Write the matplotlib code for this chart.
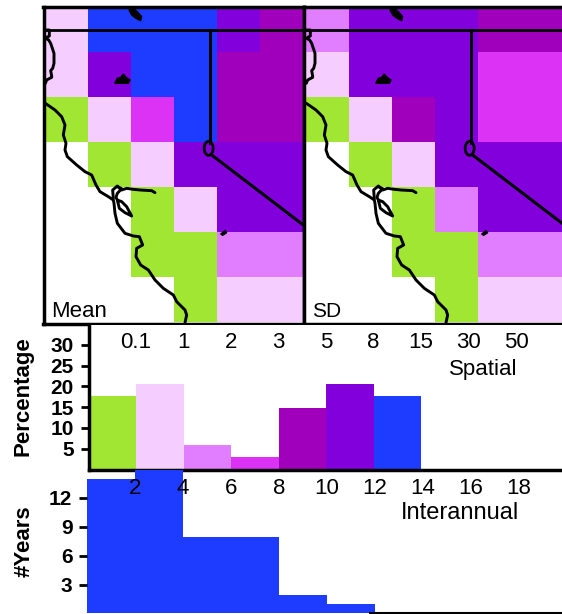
#!/usr/bin/env python3
"""Mean / SD maps with spatial and interannual histograms."""

import matplotlib

matplotlib.use("Agg")
import matplotlib.pyplot as plt  # noqa: E402
from matplotlib.colors import BoundaryNorm, ListedColormap  # noqa: E402
from matplotlib.patches import Ellipse  # noqa: E402
import numpy as np  # noqa: E402

plt.rcParams["font.family"] = ["Liberation Sans", "DejaVu Sans"]
W, H = 562, 614

CLASS_COLORS = ["#ffffff", "#a0e632", "#f5cdff", "#e17dff", "#dc32f5", "#a000bc", "#8200dc", "#1e3cff"]

# class per grid cell: 0 none, 1-7 the bins of the spatial histogram
MEAN_CELLS = [
    [2, 7, 7, 7, 6, 5],
    [2, 6, 7, 7, 5, 5],
    [1, 2, 4, 7, 5, 5],
    [0, 1, 2, 6, 6, 6],
    [0, 0, 1, 2, 6, 6],
    [0, 0, 1, 1, 3, 3],
    [0, 0, 0, 1, 2, 2],
]
SD_CELLS = [
    [3, 6, 6, 6, 5, 5],
    [2, 6, 6, 6, 4, 4],
    [1, 2, 5, 6, 4, 4],
    [0, 1, 2, 6, 6, 6],
    [0, 0, 1, 3, 6, 6],
    [0, 0, 1, 1, 3, 3],
    [0, 0, 0, 1, 2, 2],
]

# outlines, in pixels of the 3x crop
COAST_NORTH_X = [46, 52, 58, 58, 50, 47, 56, 62, 72, 72, 68, 62, 65, 65, 50, 46]
COAST_NORTH_Y = [90, 90, 90, 108, 112, 115, 120, 130, 160, 190, 205, 212, 228, 232, 240, 250]
COAST_MAIN_X = [46, 75, 95, 105, 100, 108, 105, 112, 140, 165, 185, 198, 210, 235, 250, 252, 255, 262, 285, 310, 328, 338, 320, 318, 332, 355, 375, 400, 430, 440, 465, 470, 465]
COAST_MAIN_Y = [310, 330, 350, 375, 405, 430, 450, 470, 495, 515, 525, 555, 575, 590, 600, 610, 640, 670, 700, 708, 710, 735, 745, 770, 795, 810, 840, 865, 885, 905, 930, 945, 968]
BAY_X = [250, 248, 262, 275, 290, 310, 330, 365, 375]
BAY_Y = [596, 570, 558, 570, 565, 568, 570, 572, 578]
BAY_LOOP_X = [262, 275, 262, 258, 262, 275, 290, 305, 285, 268, 262]
BAY_LOOP_Y = [560, 566, 580, 592, 600, 605, 620, 648, 638, 625, 600]
NV_X = [541, 541]
NV_Y = [90, 430]
DIAG_X = [545, 816]
DIAG_Y = [465, 672]
TAHOE_XY = (536, 445)
LAKES_X = [[297, 310, 322, 335, 332, 318, 305], [255, 262, 272, 280, 288, 300, 295, 255], [572, 585, 590, 578]]
LAKES_Y = [[30, 25, 35, 50, 62, 55, 45], [248, 235, 232, 222, 232, 240, 250, 250], [702, 692, 698, 706]]

BIN_EDGES = [0, 2, 4, 6, 8, 10, 12, 14]
SPATIAL_PCT = [17.7, 20.6, 5.9, 2.9, 14.7, 20.6, 17.7]
X_TICKS = [2, 4, 6, 8, 10, 12, 14, 16, 18]
SPATIAL_TOP_LABELS = ["0.1", "1", "2", "3", "5", "8", "15", "30", "50"]
PCT_TICKS = [5, 10, 15, 20, 25, 30]

YEAR_EDGES = [0, 2, 4, 6, 8, 10, 12]
YEAR_COUNTS = [14, 15, 8, 8, 2, 1]
YEAR_TICKS = [3, 6, 9, 12]


def axes_at(left, top, right, bottom):
    return fig.add_axes([left / W, 1 - bottom / H, (right - left) / W, (bottom - top) / H])


def px_x(values):
    return np.asarray(values) / 3 + 30


def px_y(values):
    return np.asarray(values) / 3


def draw_map(left, right, x_shift, cells, name, size):
    axis = axes_at(left, 6.5, right, 323.5)
    cmap = ListedColormap(CLASS_COLORS)
    norm = BoundaryNorm(np.arange(-0.5, 8.5), cmap.N)
    xs = np.linspace(44.5, 302.5, 7)
    ys = np.linspace(7, 322, 8)
    axis.pcolormesh(xs, ys, np.array(cells), cmap=cmap, norm=norm)
    axis.set_xlim(left - x_shift, right - x_shift)
    axis.set_ylim(323.5, 6.5)
    axis.set_xticks([])
    axis.set_yticks([])
    for spine in axis.spines.values():
        spine.set_linewidth(2.5)
    style = {"color": "black", "linewidth": 2.1, "solid_capstyle": "round", "solid_joinstyle": "round"}
    axis.plot(px_x(COAST_NORTH_X), px_y(COAST_NORTH_Y), **style)
    axis.plot(px_x(COAST_MAIN_X), px_y(COAST_MAIN_Y), **style)
    axis.plot(px_x(BAY_X), px_y(BAY_Y), **style)
    axis.plot(px_x(BAY_LOOP_X), px_y(BAY_LOOP_Y), **style)
    axis.axhline(30, color="black", linewidth=2.0)
    axis.plot(px_x(NV_X), px_y(NV_Y), color="black", linewidth=2.2)
    axis.plot(px_x(DIAG_X), px_y(DIAG_Y), color="black", linewidth=2.2)
    axis.add_patch(
        Ellipse((px_x(TAHOE_XY[0]), px_y(TAHOE_XY[1])), 9, 14, fill=False, edgecolor="black", linewidth=2.0)
    )
    for lake_x, lake_y in zip(LAKES_X, LAKES_Y):
        axis.fill(px_x(lake_x), px_y(lake_y), color="black", linewidth=1.0)
    axis.text(51, 317, name, fontsize=size, va="baseline", ha="left")


def style_hist(axis, ticks, labels):
    axis.set_xticks(X_TICKS)
    axis.set_xticklabels(labels, fontsize=16)
    axis.set_yticks(ticks)
    axis.xaxis.set_ticks_position("top")
    axis.tick_params(axis="x", length=0)
    axis.tick_params(axis="y", length=6, width=2, pad=4.5)
    for label in axis.get_yticklabels():
        label.set_fontsize(15)
        label.set_fontweight("bold")
    axis.spines["top"].set_visible(False)
    axis.spines["right"].set_visible(False)


fig = plt.figure(figsize=(W / 100, H / 100), dpi=100)

draw_map(43.5, 303.5, 0, MEAN_CELLS, "Mean", 16)
draw_map(303.5, 563.5, 261, SD_CELLS, "SD", 15)

# spatial histogram
top = axes_at(88.5, 325, 564, 469.5)
top.bar(BIN_EDGES[:-1], SPATIAL_PCT, width=np.diff(BIN_EDGES), align="edge", color=CLASS_COLORS[1:])
top.set_xlim(0, (564 - 88.5) / 23.75)
top.set_ylim(0, (469.5 - 325) / 4.16)
style_hist(top, PCT_TICKS, SPATIAL_TOP_LABELS)
top.tick_params(axis="x", pad=-20)
top.spines["left"].set_linewidth(2.5)
top.spines["bottom"].set_linewidth(2.5)
fig.text(23 / W, 1 - 396 / H, "Percentage", fontsize=16, fontweight="bold", rotation=90, ha="center", va="center")
fig.text(483 / W, 1 - 369 / H, "Spatial", fontsize=16, ha="center", va="center")

# interannual histogram
bottom = axes_at(87, 470, 564, 613)
bottom.patch.set_alpha(0)
bottom.bar(YEAR_EDGES[:-1], YEAR_COUNTS, width=np.diff(YEAR_EDGES), align="edge", color=CLASS_COLORS[7])
bottom.set_xlim(0, (564 - 87) / 24)
bottom.set_ylim((614 - 613) / 9.67, (614 - 470) / 9.67)
style_hist(bottom, YEAR_TICKS, [str(t) for t in X_TICKS])
bottom.tick_params(axis="x", pad=-21)
bottom.spines["left"].set_visible(False)
bottom.spines["bottom"].set_linewidth(1.5)
bottom.spines["bottom"].set_bounds(11.8, (564 - 87) / 24)
fig.text(24 / W, 1 - 541 / H, "#Years", fontsize=16, fontweight="bold", rotation=90, ha="center", va="center")
fig.text(460 / W, 1 - 513 / H, "Interannual", fontsize=17, ha="center", va="center")

fig.savefig("out.png", dpi=100)
plt.close(fig)
